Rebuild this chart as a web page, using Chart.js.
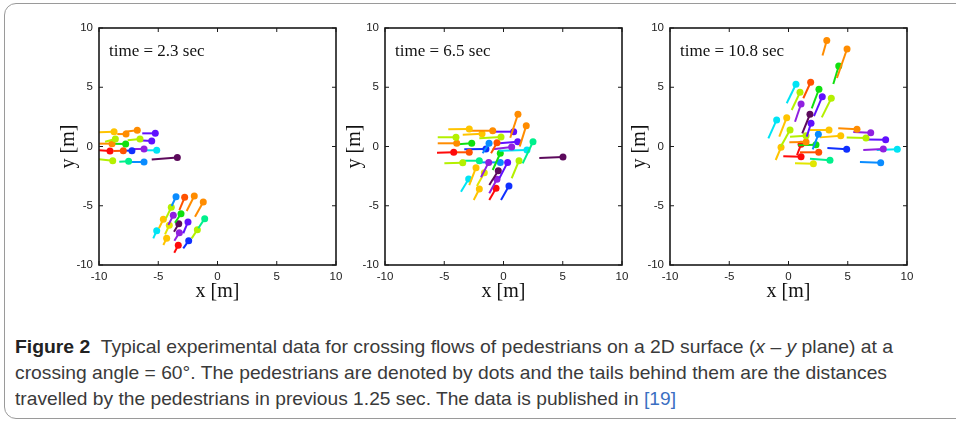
<!DOCTYPE html>
<html lang="en">
<head>
  <meta charset="UTF-8">
  <title>Figure 2 - crossing flows</title>
  <script src="https://cdn.jsdelivr.net/npm/chart.js"></script>
  <style>
    body { margin: 0; background: #fff; width: 956px; height: 424px; overflow: hidden; position: relative; }
    #frame { position: absolute; left: 4px; top: 3px; width: 1000px; height: 416px; border: 1.5px solid #9a9a9a; border-radius: 12px; box-sizing: border-box; }
    .panel { position: absolute; top: 15px; }
    .cap { position: absolute; left: 15px; font-family: "Liberation Sans Narrow", "Liberation Sans", sans-serif; font-size: 18.5px; color: #3a3a3a; white-space: nowrap; transform-origin: 0 50%; line-height: 26px; }
    .cap b { color: #222; }
    .cap .ref { color: #3b6fc2; }
  </style>
</head>
<body>
  <div id="frame"></div>
  <canvas id="c0" class="panel" width="312" height="300"></canvas>
  <canvas id="c1" class="panel" width="312" height="300"></canvas>
  <canvas id="c2" class="panel" width="312" height="300"></canvas>

  <div class="cap" id="l1" style="top:334px"><b>Figure 2</b>&nbsp; Typical experimental data for crossing flows of pedestrians on a 2D surface (<i>x</i> – <i>y</i> plane) at a</div>
  <div class="cap" id="l2" style="top:360px">crossing angle = 60°. The pedestrians are denoted by dots and the tails behind them are the distances</div>
  <div class="cap" id="l3" style="top:386px">travelled by the pedestrians in previous 1.25 sec. The data is published in <span class="ref">[19]</span></div>

  <script>
    // snapshot times
    const times = ['2.3', '6.5', '10.8'];
    const xTicks = [-10, -5, 0, 5, 10];
    const yTicks = [-10, -5, 0, 5, 10];

    // t = 2.3 sec : head (dot) and tail start for each pedestrian
    const p1HeadX = [-8.73, -7.72, -6.77, -5.25, -6.54, -8.62, -5.55, -8.9, -7.75, -9.07, -7.95, -7.22, -6.2, -5.13, -8.84, -7.5, -6.2, -3.39,
                     -3.5, -2.77, -1.96, -1.2, -3.9, -4.57, -3.73, -3.08, -3.27, -4.07, -2.49, -1.08, -5.13, -1.7, -3.22, -4.29, -3.31, -2.43];
    const p1HeadY = [1.25, 1.05, 1.37, 1.11, 0.63, 0.63, 0.46, 0.24, 0.21, -0.38, -0.35, -0.35, -0.21, -0.32, -1.2, -1.25, -1.31, -0.92,
                     -4.24, -4.29, -4.18, -4.68, -5.13, -6.14, -5.81, -5.67, -6.51, -6.65, -6.37, -6.09, -7.1, -7.02, -7.27, -7.75, -8.34, -7.95];
    const p1TailX = [-10.1, -8.46, -7.81, -6.35, -7.58, -9.49, -6.68, -10.0, -8.84, -10.0, -8.79, -8.08, -7.1, -6.26, -10.0, -8.29, -7.38, -5.55,
                     -3.87, -3.22, -2.6, -1.9, -4.35, -4.94, -4.15, -3.59, -3.67, -4.43, -2.89, -1.62, -5.42, -2.18, -3.64, -4.57, -3.65, -2.89];
    const p1TailY = [1.2, 1.05, 1.25, 1.11, 0.52, 0.4, 0.52, 0.24, 0.24, -0.32, -0.38, -0.35, -0.21, -0.32, -1.08, -1.28, -1.31, -1.1,
                     -5.02, -5.36, -5.44, -5.92, -6.06, -6.9, -6.62, -6.43, -7.19, -7.41, -7.32, -6.9, -7.75, -7.75, -7.95, -8.31, -8.96, -8.59];

    // t = 6.5 sec
    const p2HeadX = [1.22, 1.92, -2.89, -0.91, 0.86, -1.81, -4.01, -0.21, -3.95, -2.68, -1.22, -0.55, 1.2, 2.49, 0.69, -4.2, -2.89, -1.48,
                     1.98, -0.27, 5.02, -3.44, -2.04, -1.25, -0.27, 0.35, 1.31, -2.32, -1.62, -0.44, -0.55, -2.94, -2.04, -0.63, 0.46];
    const p2HeadY = [2.72, 1.76, 1.48, 1.33, 1.25, 1.08, 0.78, 0.8, 0.27, 0.27, 0.27, 0.32, 0.4, 0.4, -0.04, -0.49, -0.49, -0.21,
                     -0.3, -0.57, -0.89, -1.37, -1.2, -1.34, -1.34, -1.34, -1.2, -1.79, -2.21, -2.04, -2.77, -2.74, -3.59, -3.53, -3.33];
    const p2TailX = [0.57, 1.37, -4.66, -2.74, -0.83, -3.44, -5.55, -2.04, -5.55, -3.86, -1.76, -1.05, -0.35, 1.62, -0.91, -5.61, -4.15, -3.31,
                     -0.35, -0.91, 3.02, -4.99, -3.59, -1.9, -1.9, -0.35, 0.69, -2.89, -2.24, -1.2, -1.2, -3.59, -2.51, -1.2, -0.21];
    const p2TailY = [0.74, 0.0, 1.45, 1.33, 1.25, 1.0, 0.78, 0.69, 0.27, 0.19, -0.57, -0.57, 0.27, -1.42, -0.24, -0.52, -0.49, -0.24,
                     -0.35, -1.98, -0.97, -1.42, -1.2, -2.6, -1.34, -2.68, -2.68, -3.25, -3.33, -3.25, -3.95, -3.81, -4.51, -4.51, -4.51];

    // t = 10.8 sec
    const p3HeadX = [3.23, 4.94, 4.24, 0.63, 1.87, 0.97, 2.57, 1.06, 2.85, 3.61, -1.0, -0.15, 1.81, 1.9, 0.13, 3.42, 5.78, 6.94,
                     1.48, 2.52, 4.41, 6.54, 8.2, 1.48, -0.63, 2.32, 1.06, 1.06, 2.55, 4.91, 8.0, 9.18, 3.5, 2.1, 7.78];
    const p3HeadY = [8.95, 8.23, 6.79, 5.25, 5.42, 4.57, 4.83, 3.59, 4.2, 4.07, 2.24, 2.43, 2.72, 1.96, 1.39, 1.39, 1.45, 1.17,
                     0.91, 1.03, 0.91, 0.72, 0.57, 0.38, -0.07, 0.15, 0.19, -0.86, -0.49, -0.24, -0.21, -0.24, -1.16, -1.45, -1.37];
    const p3TailX = [2.87, 4.09, 3.78, -0.15, 1.25, 0.27, 1.96, 0.55, 2.15, 2.81, -1.7, -0.78, 1.16, 1.54, -0.66, 1.81, 4.2, 5.47,
                     0.13, 2.04, 2.66, 4.91, 6.6, 0.07, -1.08, 0.83, 0.72, -0.44, 0.97, 3.28, 6.31, 7.44, 1.81, 0.55, 6.03];
    const p3TailY = [7.68, 5.78, 5.27, 3.65, 4.07, 3.08, 3.22, 2.09, 2.57, 2.46, 0.69, 0.83, 1.11, 0.83, -0.02, 1.39, 1.54, 1.22,
                     0.83, -0.24, 0.77, 0.77, 0.6, 0.35, -1.14, 0.1, -0.72, -0.83, -0.49, -0.13, -0.3, -0.3, -1.03, -1.42, -1.31];

    // ---- styles ----
    const palette = ['#ff0a0a', '#ff5200', '#ff8c00', '#ffc400', '#e2e600', '#b4f000', '#10e010', '#00f08c',
                     '#00e4f4', '#0a8cff', '#1030ff', '#6010ff', '#9020e0', '#5c0a5c'];
    const p1Col = [3, 2, 2, 11, 5, 5, 11, 2, 6, 0, 1, 10, 12, 8, 5, 7, 9, 13,
                   9, 1, 2, 2, 5, 3, 12, 6, 13, 4, 11, 7, 8, 5, 12, 3, 0, 10];
    const p2Col = [2, 2, 3, 2, 11, 3, 5, 5, 2, 6, 9, 1, 11, 7, 12, 0, 1, 10,
                   8, 6, 13, 5, 7, 12, 9, 11, 5, 3, 4, 13, 12, 8, 3, 0, 10];
    const p3Col = [2, 2, 6, 8, 1, 5, 6, 12, 11, 5, 8, 3, 13, 11, 5, 3, 2, 12,
                   5, 9, 3, 5, 11, 2, 3, 6, 0, 0, 1, 10, 12, 8, 7, 4, 9];

    const panels = [
      { hx: p1HeadX, hy: p1HeadY, tx: p1TailX, ty: p1TailY, col: p1Col },
      { hx: p2HeadX, hy: p2HeadY, tx: p2TailX, ty: p2TailY, col: p2Col },
      { hx: p3HeadX, hy: p3HeadY, tx: p3TailX, ty: p3TailY, col: p3Col }
    ];

    // frame, inward ticks and time stamp
    const framePlugin = {
      id: 'frame',
      afterDatasetsDraw(chart, args, opts) {
        const { ctx, chartArea: a, scales } = chart;
        ctx.save();
        ctx.strokeStyle = '#1a1a1a';
        ctx.lineWidth = 1.6;
        ctx.strokeRect(a.left, a.top, a.right - a.left, a.bottom - a.top);
        ctx.lineWidth = 1;
        ctx.beginPath();
        xTicks.forEach(v => {
          const px = scales.x.getPixelForValue(v);
          ctx.moveTo(px, a.bottom); ctx.lineTo(px, a.bottom - 4);
          ctx.moveTo(px, a.top); ctx.lineTo(px, a.top + 4);
        });
        yTicks.forEach(v => {
          const py = scales.y.getPixelForValue(v);
          ctx.moveTo(a.left, py); ctx.lineTo(a.left + 4, py);
          ctx.moveTo(a.right, py); ctx.lineTo(a.right - 4, py);
        });
        ctx.stroke();
        ctx.fillStyle = '#111';
        ctx.font = '17px "Liberation Serif", "Times New Roman", serif';
        ctx.textBaseline = 'middle';
        ctx.fillText('time = ' + opts.time + ' sec', a.left + 10, a.top + 24);
        ctx.restore();
      }
    };

    const tickFont = { family: '"Liberation Sans", Arial, sans-serif', size: 11.5 };
    const titleFont = { family: '"Liberation Serif", "Times New Roman", serif', size: 20 };

    panels.forEach((p, i) => {
      const canvas = document.getElementById('c' + i);
      canvas.style.left = (40 + i * 285.5) + 'px';

      const datasets = p.hx.map((hx, k) => {
        const c = palette[p.col[k]];
        return {
          data: [{ x: p.tx[k], y: p.ty[k] }, { x: hx, y: p.hy[k] }],
          showLine: true,
          borderColor: c,
          borderWidth: 2,
          pointRadius: [0, 3.5],
          pointBackgroundColor: c,
          pointBorderWidth: 0,
          pointHoverRadius: 0
        };
      });

      new Chart(canvas.getContext('2d'), {
        type: 'scatter',
        data: { datasets: datasets },
        plugins: [framePlugin],
        options: {
          responsive: false,
          animation: false,
          events: [],
          layout: { padding: { top: 13, right: 16, left: 0, bottom: 0 } },
          plugins: { legend: { display: false }, tooltip: { enabled: false }, frame: { time: times[i] } },
          scales: {
            x: {
              type: 'linear', min: -10, max: 10,
              afterBuildTicks: s => { s.ticks = xTicks.map(v => ({ value: v })); },
              afterFit: s => { s.height = 50; s.paddingLeft = 0; s.paddingRight = 0; },
              grid: { display: false, drawTicks: false }, border: { display: false },
              ticks: { color: '#222', font: tickFont, padding: 5, maxRotation: 0 },
              title: { display: true, text: 'x [m]', color: '#111', font: titleFont, padding: { top: 0, bottom: 11 } }
            },
            y: {
              type: 'linear', min: -10, max: 10,
              afterBuildTicks: s => { s.ticks = yTicks.map(v => ({ value: v })); },
              afterFit: s => { s.width = 59; s.paddingTop = 0; s.paddingBottom = 0; },
              grid: { display: false, drawTicks: false }, border: { display: false },
              ticks: { color: '#222', font: tickFont, padding: 6 },
              title: { display: true, text: 'y [m]', color: '#111', font: titleFont, padding: { top: 17, bottom: 0 } }
            }
          }
        }
      });
    });

    // fit caption lines to their measured widths in the reference
    const capWidths = { l1: 878, l2: 872, l3: 661 };
    Object.keys(capWidths).forEach(id => {
      const el = document.getElementById(id);
      const w = el.getBoundingClientRect().width;
      if (w > 0) el.style.transform = 'scaleX(' + (capWidths[id] / w) + ')';
    });
  </script>
</body>
</html>
